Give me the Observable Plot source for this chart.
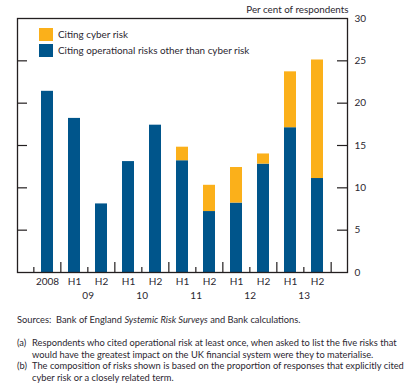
<!DOCTYPE html>
<html>
<head>
<meta charset="utf-8">
<script src="https://cdn.jsdelivr.net/npm/d3@7"></script>
<script src="https://cdn.jsdelivr.net/npm/@observablehq/plot@0.6"></script>
<style>
  html, body { margin: 0; padding: 0; background: #fff; }
  body { width: 404px; height: 390px; overflow: hidden; font-family: "Lato", sans-serif; color: #2b2730; }
  #wrap { position: relative; width: 404px; }
  #legend { position: absolute; left: 39px; top: 26px; font-size: 9.9px; line-height: 16px; }
  #legend .row { display: flex; align-items: center; height: 16px; }
  #legend .sw { width: 14px; height: 13px; margin-right: 5px; }
  #foot { padding-left: 17px; font-size: 9.3px; line-height: 11.8px; }
  #foot .src { margin-top: 12px; }
  #foot .notes { margin-top: 11px; }
  #foot .n { display: flex; }
  #foot .n .k { width: 15px; flex: none; }
</style>
</head>
<body>
<div id="wrap">
  <div id="chart"></div>
  <div id="legend"></div>
  <div id="foot"></div>
</div>
<script>
const periods = ["2008","2009 H1","2009 H2","2010 H1","2010 H2","2011 H1","2011 H2","2012 H1","2012 H2","2013 H1","2013 H2"];
const tickLabels = ["2008","H1","H2","H1","H2","H1","H2","H1","H2","H1","H2"];
const yearLabels = ["09","10","11","12","13"];
const yearAnchors = ["2009 H1","2010 H1","2011 H1","2012 H1","2013 H1"];
const otherOperational = [21.4,18.2,8.1,13.1,17.4,13.2,7.2,8.2,12.8,17.1,11.1];
const cyberRisk = [0,0,0,0,0,1.6,3.1,4.2,1.2,6.6,14.0];
const seriesNames = ["Citing operational risks other than cyber risk","Citing cyber risk"];
const seriesColors = ["#00558b","#fbb01a"];
const yTicks = [0,5,10,15,20,25,30];

const rows = [];
periods.forEach((p, i) => {
  rows.push({period: p, series: seriesNames[0], value: otherOperational[i]});
  rows.push({period: p, series: seriesNames[1], value: cyberRisk[i]});
});

const W = 404, H = 302;
const mL = 17, mR = 57, mT = 18, mB = 30;
const pInner = 0.56, pOuter = 0.82;
const step = (W - mL - mR) / (periods.length - pInner + 2 * pOuter);
const frameH = H - mT - mB;
const frameW = W - mL - mR;
const ink = "#231f20";

const tickData = periods.map((p, i) => ({period: p, tall: tickLabels[i] === "H1", side: -1}));
tickData.push({period: periods[periods.length - 1], tall: true, side: 1});

const plot = Plot.plot({
  width: W, height: H,
  marginLeft: mL, marginRight: mR, marginTop: mT, marginBottom: mB,
  style: {fontFamily: '"Lato", sans-serif', fontSize: "10px", color: "#2b2730", background: "#fff"},
  x: {type: "band", domain: periods, paddingInner: pInner, paddingOuter: pOuter, axis: null, label: null},
  y: {domain: [0, 30], axis: null, label: null},
  color: {domain: seriesNames, range: seriesColors},
  marks: [
    Plot.barY(rows, {x: "period", y: "value", fill: "series", order: seriesNames}),
    Plot.tickY(yTicks.slice(1, -1), {y: d => d, insetRight: frameW - 10, stroke: ink, strokeWidth: 1.2}),
    Plot.tickY(yTicks.slice(1, -1), {y: d => d, insetLeft: frameW - 10, stroke: ink, strokeWidth: 1.2}),
    ...tickData.map(t => Plot.tickX([t], {x: "period", dx: t.side * step / 2, insetTop: frameH - (t.tall ? 10 : 5), stroke: ink, strokeWidth: 1.2})),
    Plot.frame({stroke: ink, strokeWidth: 1.3}),
    Plot.axisY(yTicks, {anchor: "right", tickSize: 0, tickPadding: 7, fontSize: 10, label: null}),
    Plot.axisX(periods, {anchor: "bottom", tickSize: 0, tickPadding: 5, tickFormat: d => tickLabels[periods.indexOf(d)], fontSize: 10, label: null}),
    Plot.text(yearAnchors, {x: d => d, text: (d, i) => yearLabels[i], frameAnchor: "bottom", dx: step / 2, dy: 23, lineAnchor: "middle", fontSize: 10}),
    Plot.text(["Per cent of respondents"], {frameAnchor: "top-right", textAnchor: "end", dy: -9, dx: 1, lineAnchor: "middle", fontSize: 9.8})
  ]
});
document.getElementById("chart").appendChild(plot);

const legend = document.getElementById("legend");
[1, 0].forEach(k => {
  const r = document.createElement("div");
  r.className = "row";
  r.innerHTML = `<span class="sw" style="background:${seriesColors[k]}"></span><span>${seriesNames[k]}</span>`;
  legend.appendChild(r);
});

document.getElementById("foot").innerHTML = `
  <div class="src">Sources:&nbsp; Bank of England <i>Systemic Risk Surveys</i> and Bank calculations.</div>
  <div class="notes">
    <div class="n"><span class="k">(a)</span><span>Respondents who cited operational risk at least once, when asked to list the five risks that<br>would have the greatest impact on the UK financial system were they to materialise.</span></div>
    <div class="n"><span class="k">(b)</span><span>The composition of risks shown is based on the proportion of responses that explicitly cited<br>cyber risk or a closely related term.</span></div>
  </div>`;
</script>
</body>
</html>
